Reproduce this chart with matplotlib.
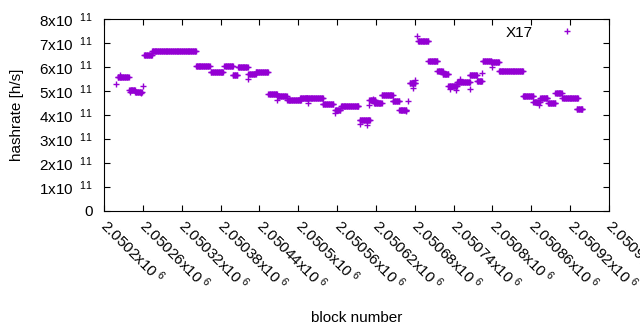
import numpy as np
import matplotlib
matplotlib.use('Agg')
import matplotlib.pyplot as plt

plt.rcParams['font.family'] = ['Liberation Sans', 'DejaVu Sans']
plt.rcParams['mathtext.fontset'] = 'custom'
plt.rcParams['mathtext.rm'] = 'Liberation Sans'
plt.rcParams['mathtext.default'] = 'regular'

# runs of blocks sharing the same hashrate estimate (x1e11 h/s)
seg_start = [2050221, 2050239, 2050248, 2050262, 2050274, 2050342, 2050365,
             2050386, 2050399, 2050407, 2050423, 2050434, 2050454, 2050468,
             2050483, 2050503, 2050512, 2050538, 2050557, 2050566, 2050595,
             2050610, 2050617, 2050629, 2050646, 2050656, 2050672, 2050685,
             2050701, 2050715, 2050723, 2050732, 2050745, 2050765, 2050776,
             2050785, 2050798, 2050810, 2050847, 2050863, 2050874, 2050886,
             2050897, 2050908, 2050930]
seg_end = [2050238, 2050248, 2050258, 2050274, 2050342, 2050363, 2050384,
           2050399, 2050406, 2050422, 2050434, 2050453, 2050467, 2050482,
           2050504, 2050513, 2050538, 2050554, 2050565, 2050593, 2050611,
           2050619, 2050629, 2050646, 2050656, 2050667, 2050681, 2050701,
           2050715, 2050723, 2050732, 2050745, 2050765, 2050776, 2050784,
           2050798, 2050810, 2050847, 2050863, 2050873, 2050885, 2050897,
           2050907, 2050932, 2050939]
seg_value = [5.57, 5.05, 4.97, 6.49, 6.65, 6.03, 5.78,
             6.03, 5.65, 6.00, 5.72, 5.78, 4.86, 4.81,
             4.61, 4.72, 4.69, 4.44, 4.19, 4.36, 3.78,
             4.61, 4.50, 4.82, 4.57, 4.22, 5.33, 7.07,
             6.24, 5.85, 5.71, 5.21, 5.36, 5.68, 5.40,
             6.24, 6.19, 5.82, 4.78, 4.56, 4.71, 4.50,
             4.92, 4.69, 4.24]

# scattered single blocks
one_block = [2050218, 2050224, 2050240, 2050257, 2050261, 2050423, 2050467,
             2050515, 2050557, 2050596, 2050606, 2050610, 2050616, 2050667,
             2050670, 2050677, 2050681, 2050684, 2050735, 2050744, 2050750,
             2050765, 2050784, 2050800, 2050872]
one_value = [5.28, 5.65, 4.95, 4.90, 5.21, 5.51, 4.63,
             4.51, 4.07, 3.64, 3.60, 4.43, 4.68, 4.15,
             4.58, 5.12, 5.45, 7.29, 5.10, 5.06, 5.50,
             5.10, 5.74, 6.00, 4.42]

xticks = np.arange(2050200, 2050981, 60)
yticks = np.arange(0, 9) * 1e11

blocks = []
rates = []
for s, e, v in zip(seg_start, seg_end, seg_value):
    b = np.arange(s, e + 1)
    blocks.extend(b)
    rates.extend([v * 1e11] * len(b))
blocks.extend(one_block)
rates.extend([v * 1e11 for v in one_value])

fig = plt.figure(figsize=(6.4, 3.3), dpi=100)
ax = fig.add_axes([104 / 640, 1 - 211 / 330, 505 / 640, 192 / 330])

color = '#9400d3'
ax.plot(blocks, rates, linestyle='none', marker='+', markersize=4.5,
        markeredgewidth=1.0, color=color, label='X17')

ax.set_xlim(2050200, 2050980)
ax.set_ylim(0, 8e11)
ax.set_xticks(xticks)
ax.set_yticks(yticks)

def xlab(v):
    s = '%g' % (v / 1e6)
    return s + r'x10$^{\ 6}$'

def ylab(v):
    if v == 0:
        return '0'
    return r'%dx10$^{\ \ 11}$' % round(v / 1e11)

ax.set_xticklabels([xlab(v) for v in xticks], rotation=-45,
                   ha='left', va='center', rotation_mode='anchor', fontsize=11)
ax.set_yticklabels([ylab(v) for v in yticks], fontsize=11)
ax.tick_params(direction='in', top=True, right=True, length=4, width=0.8)
ax.tick_params(axis='x', pad=8)
ax.tick_params(axis='y', pad=8)

ax.set_xlabel('block number', fontsize=11, labelpad=13)
ax.set_ylabel('hashrate [h/s]', fontsize=11, labelpad=11)

ax.legend(loc='upper right', markerfirst=False, frameon=False, fontsize=11,
          bbox_to_anchor=(0.966, 1.036), handlelength=1.5, markerscale=1.1,
          handletextpad=1.45)

fig.savefig('out.png', dpi=100)
